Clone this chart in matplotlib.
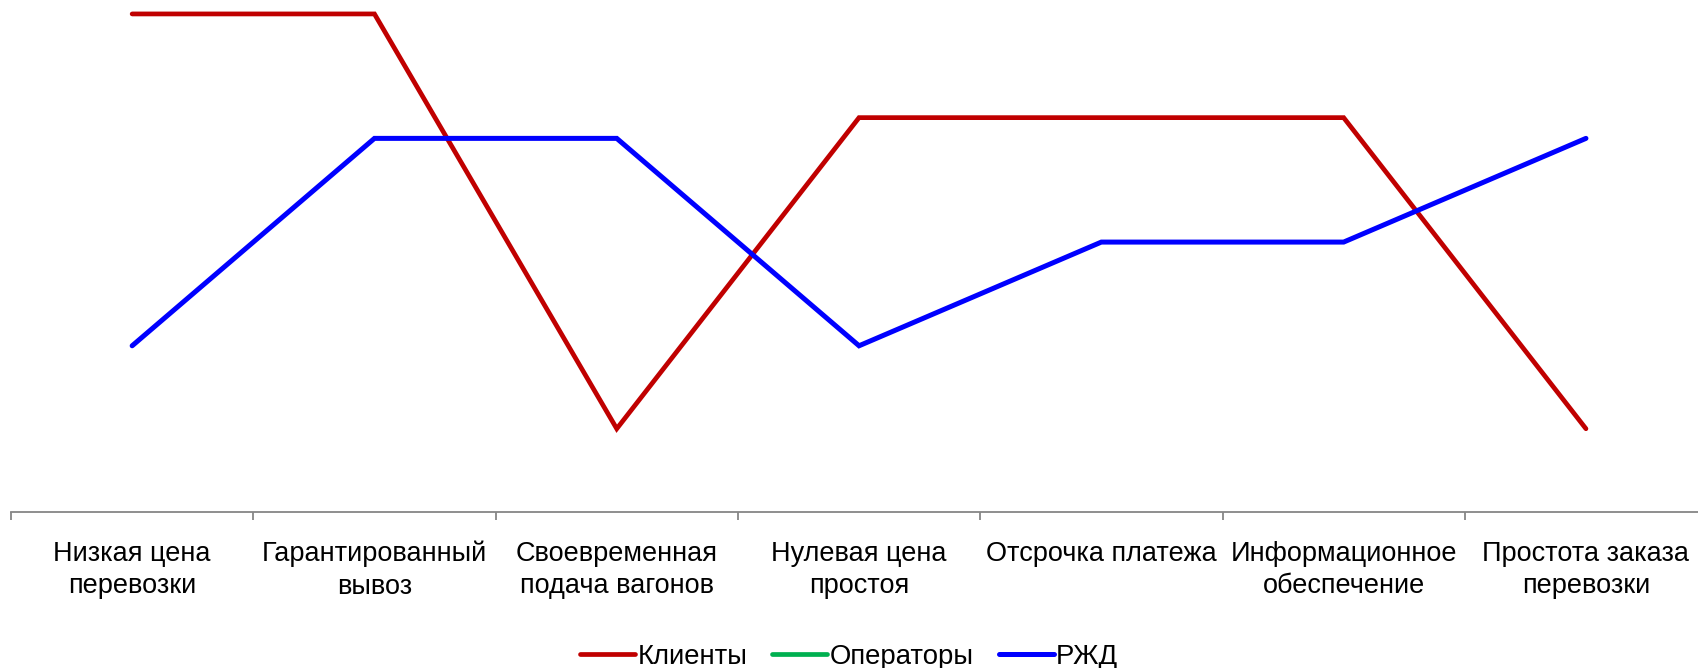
import numpy as np
import matplotlib
matplotlib.use("Agg")
import matplotlib.pyplot as plt

categories = ["Низкая цена\nперевозки", "Гарантированный\nвывоз", "Своевременная\nподача вагонов",
              "Нулевая цена\nпростоя", "Отсрочка платежа", "Информационное\nобеспечение",
              "Простота заказа\nперевозки"]
klienty = [24, 24, 4, 19, 19, 19, 4]
operatory = [np.nan] * 7
rzd = [8, 18, 18, 8, 13, 13, 18]

plt.rcParams['font.family'] = ['Liberation Sans', 'DejaVu Sans']

W, H = 1698, 668
fig = plt.figure(figsize=(W / 100, H / 100), dpi=100)
left = 11 / W
bottom = (H - 511.7) / H
ax = fig.add_axes([left, bottom, 242.3 * 7 / W, 518.5 / H])

x = np.arange(len(categories))
ax.plot(x, klienty, color='#C00000', lw=3.4, solid_capstyle='round', solid_joinstyle='miter', label='Клиенты')
ax.plot(x, operatory, color='#00B050', lw=3.4, solid_capstyle='round', label='Операторы')
ax.plot(x, rzd, color='#0000FF', lw=3.6, solid_capstyle='round', solid_joinstyle='miter', label='РЖД')

ax.set_xlim(-0.5, 6.5)
ax.set_ylim(0, 25)
for s in ['top', 'right', 'left']:
    ax.spines[s].set_visible(False)
ax.spines['bottom'].set_color('#868686')
ax.spines['bottom'].set_linewidth(1.3)
ax.set_yticks([])
ax.set_xticks(np.arange(-0.5, 7.0, 1.0))
ax.set_xticklabels([])
ax.tick_params(axis='x', which='major', length=6, width=1.3, color='#868686', direction='out')
ax.set_xticks(x, minor=True)
ax.set_xticklabels(categories, minor=True, fontsize=19.5, color='black', linespacing=1.32)
ax.tick_params(axis='x', which='minor', length=0, pad=21)

fig.legend(loc='center', bbox_to_anchor=(0.5, 1 - 657 / H), ncol=3, frameon=False,
           fontsize=19.8, handlelength=2.0, handletextpad=0.1, columnspacing=0.9)

fig.savefig('out.png', dpi=100)
